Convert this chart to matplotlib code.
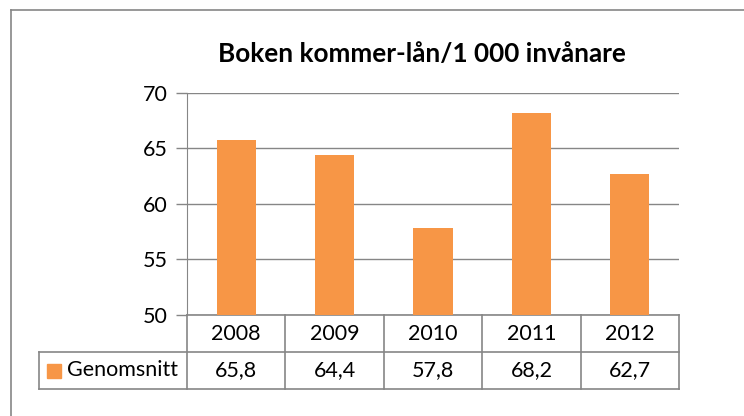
import matplotlib
matplotlib.use("Agg")
import matplotlib.pyplot as plt
from matplotlib.patches import Rectangle

years = ["2008", "2009", "2010", "2011", "2012"]
values = [65.8, 64.4, 57.8, 68.2, 62.7]
series_name = "Genomsnitt"
title = "Boken kommer-lån/1 000 invånare"
yticks = [50, 55, 60, 65, 70]

ORANGE = "#F79646"
GRID = "#868686"
plt.rcParams["font.family"] = ["Lato", "DejaVu Sans"]

W, H = 744, 416
fig = plt.figure(figsize=(W / 100, H / 100), dpi=100)

# outer chart frame (only top and left edges fall inside the picture)
fig.add_artist(plt.Line2D([11 / W, 11 / W], [0, 1 - 10 / H], color=GRID, lw=1.2))
fig.add_artist(plt.Line2D([11 / W, 1], [1 - 10 / H, 1 - 10 / H], color=GRID, lw=1.2))

left, right, top, bottom = 187, 679, 93, 315
ax = fig.add_axes([left / W, 1 - bottom / H, (right - left) / W, (bottom - top) / H])

x = list(range(len(years)))
ax.bar(x, values, width=0.4, color=ORANGE, zorder=3)
ax.set_xlim(-0.5, len(years) - 0.5)
ax.set_ylim(yticks[0], yticks[-1])
ax.set_yticks(yticks)
ax.set_xticks([])
ax.tick_params(axis="y", length=8, width=1, color=GRID, labelsize=15.5, pad=6)
ax.yaxis.grid(True, color=GRID, lw=1)
ax.set_axisbelow(True)
for s in ("top", "right", "bottom"):
    ax.spines[s].set_visible(False)
ax.spines["left"].set_color(GRID)
ax.spines["left"].set_zorder(4)

fig.text(422 / W, 1 - 54 / H, title, ha="center", va="center",
         fontsize=18.8, fontweight="bold")

# data table under the plot
tr = ax.get_xaxis_transform()
cat_px = (right - left) / len(years)
lab_left = -0.5 - (left - 39) / cat_px
row_h = 37 / (bottom - top)
y0, y1, y2 = 0, -row_h, -2 * row_h
kw = dict(color=GRID, lw=1.2, transform=tr, clip_on=False)
ax.plot([-0.5, len(years) - 0.5], [y0, y0], **kw)
ax.plot([lab_left, len(years) - 0.5], [y1, y1], **kw)
ax.plot([lab_left, len(years) - 0.5], [y2, y2], **kw)
ax.plot([lab_left, lab_left], [y1, y2], **kw)
for i in range(len(years) + 1):
    ax.plot([i - 0.5, i - 0.5], [y0, y2], **kw)
for i, (yr, v) in enumerate(zip(years, values)):
    ax.text(i, (y0 + y1) / 2, yr, ha="center", va="center", fontsize=15.5,
            transform=tr)
    ax.text(i, (y1 + y2) / 2, f"{v:.1f}".replace(".", ","), ha="center",
            va="center", fontsize=15.5, transform=tr)

sw = 14 / cat_px
ax.add_patch(Rectangle((lab_left + 8 / cat_px, (y1 + y2) / 2 - 7 / (bottom - top)),
                       sw, 14 / (bottom - top), color=ORANGE, transform=tr,
                       clip_on=False))
ax.text(lab_left + 28 / cat_px, (y1 + y2) / 2, series_name, ha="left",
        va="center", fontsize=15.5, transform=tr)

fig.savefig("out.png", dpi=100)
